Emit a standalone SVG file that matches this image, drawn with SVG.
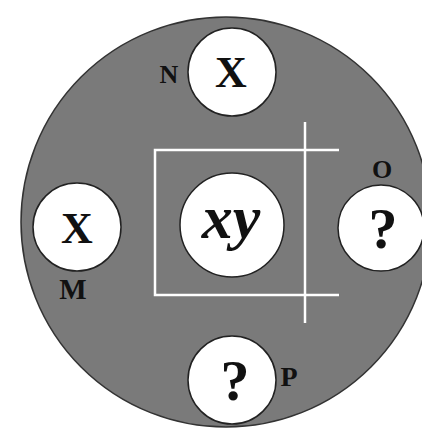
<svg xmlns="http://www.w3.org/2000/svg" width="422" height="429" viewBox="0 0 422 429">
<style>
.c{fill:#fff;stroke:#222;stroke-width:1.5}
.t{font-family:"Liberation Serif","Times New Roman",serif;font-weight:bold;fill:#111;text-anchor:middle}
.w{stroke:#fff;stroke-width:2.5;fill:none}
</style>
<rect width="422" height="429" fill="#fff"/>
<g id="disc"><circle cx="226" cy="222" r="205" fill="#7a7a7a" stroke="#333" stroke-width="1.5"/></g>
<g id="connectors">
<polyline class="w" points="339,150 155,150 155,295 339,295"/>
<line class="w" x1="305" y1="122" x2="305" y2="323"/>
</g>
<g id="nodeN"><circle class="c" cx="232" cy="72" r="44"/><text class="t" x="231" y="87" font-size="44">X</text><text class="t" x="169" y="83" font-size="26">N</text></g>
<g id="nodeM"><circle class="c" cx="77" cy="227" r="44"/><text class="t" x="77" y="243" font-size="44">X</text><text class="t" x="73" y="299" font-size="29">M</text></g>
<g id="nodeXY"><circle class="c" cx="232" cy="225" r="52"/><text class="t" x="231" y="238" font-size="62" font-style="italic">xy</text></g>
<g id="nodeO"><circle class="c" cx="381" cy="228" r="43"/><text class="t" x="383" y="248" font-size="58">?</text><text class="t" x="382" y="178" font-size="26">O</text></g>
<g id="nodeP"><circle class="c" cx="232" cy="380" r="44"/><text class="t" x="235" y="400" font-size="58">?</text><text class="t" x="289" y="386" font-size="28">P</text></g>
</svg>
